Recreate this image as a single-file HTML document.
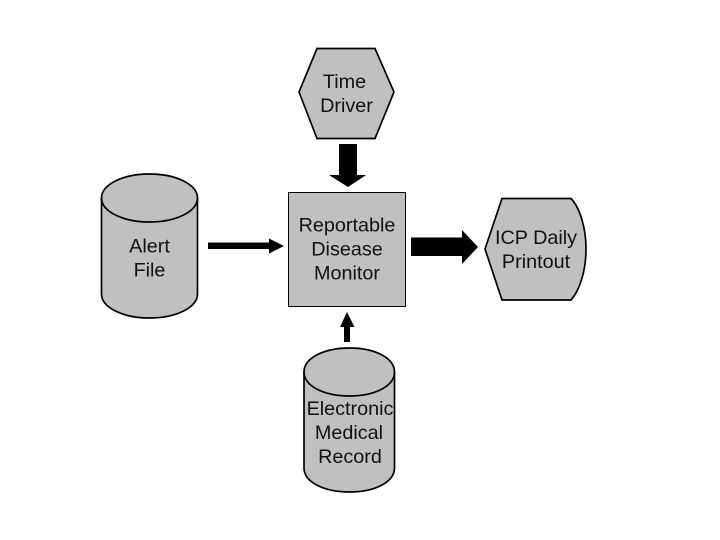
<!DOCTYPE html>
<html>
<head>
<meta charset="utf-8">
<style>
html,body{margin:0;padding:0;background:#fff;}
svg{display:block;}
text{font-family:"Liberation Sans",Arial,sans-serif;font-size:19.8px;fill:#111;text-anchor:middle;}
</style>
</head>
<body>
<svg width="720" height="540" viewBox="0 0 720 540" xmlns="http://www.w3.org/2000/svg">
<rect width="720" height="540" fill="#fff"/>

<!-- Time Driver hexagon -->
<polygon points="317,48.500 375,48.500 394,92 375,138.500 317,138.500 299,92" fill="#c0c0c0" stroke="#000" stroke-width="1.700"/>
<text x="344.500" y="88">Time</text>
<text x="346.500" y="112">Driver</text>

<!-- Down thick arrow -->
<polygon points="339,144 357,144 357,175 366,175 348,187 329,175 339,175" fill="#000"/>

<!-- Alert File cylinder -->
<path d="M101.500,198 C101.500,185 122,174 149.500,174 C177,174 197.500,185 197.500,198 L197.500,294 C197.500,307 177,318 149.500,318 C122,318 101.500,307 101.500,294 Z" fill="#c0c0c0" stroke="#000" stroke-width="1.700"/>
<path d="M101.500,198 C101.500,211 122,222 149.500,222 C177,222 197.500,211 197.500,198" fill="none" stroke="#000" stroke-width="1.700"/>
<text x="149.500" y="252.500">Alert</text>
<text x="149.500" y="276.500">File</text>

<!-- Alert arrow -->
<polygon points="208,242.500 269,242.500 269,238.500 284,246 269,253.500 269,249 208,249" fill="#000"/>

<!-- Reportable Disease Monitor -->
<rect x="288.500" y="192.500" width="117" height="114" fill="#c0c0c0" stroke="#000" stroke-width="1"/>
<text x="347" y="231.500">Reportable</text>
<text x="347" y="255.500">Disease</text>
<text x="347" y="279.500">Monitor</text>

<!-- Right thick arrow -->
<polygon points="411,237.500 462,237.500 462,230 478,247 462,264 462,256 411,256" fill="#000"/>

<!-- ICP Daily Printout -->
<path d="M502,198.500 L571,198.500 C580,208 586,228 586,249 C586,270 580,290 571,300 L502,300 L485,249 Z" fill="#c0c0c0" stroke="#000" stroke-width="1.700"/>
<text x="536" y="244">ICP Daily</text>
<text x="536" y="268">Printout</text>

<!-- Up arrow -->
<polygon points="344,342 350,342 350,327 354.500,327 347,312 340,327 344,327" fill="#000"/>

<!-- Electronic Medical Record cylinder -->
<path d="M304,372 C304,358 324,348 349.500,348 C375,348 394.500,358 394.500,372 L394.500,468 C394.500,482 375,492 349.500,492 C324,492 304,482 304,468 Z" fill="#c0c0c0" stroke="#000" stroke-width="1.700"/>
<path d="M304,372 C304,386 324,396 349.500,396 C375,396 394.500,386 394.500,372" fill="none" stroke="#000" stroke-width="1.700"/>
<text x="350" y="415">Electronic</text>
<text x="349" y="439">Medical</text>
<text x="350" y="463">Record</text>
</svg>
</body>
</html>
